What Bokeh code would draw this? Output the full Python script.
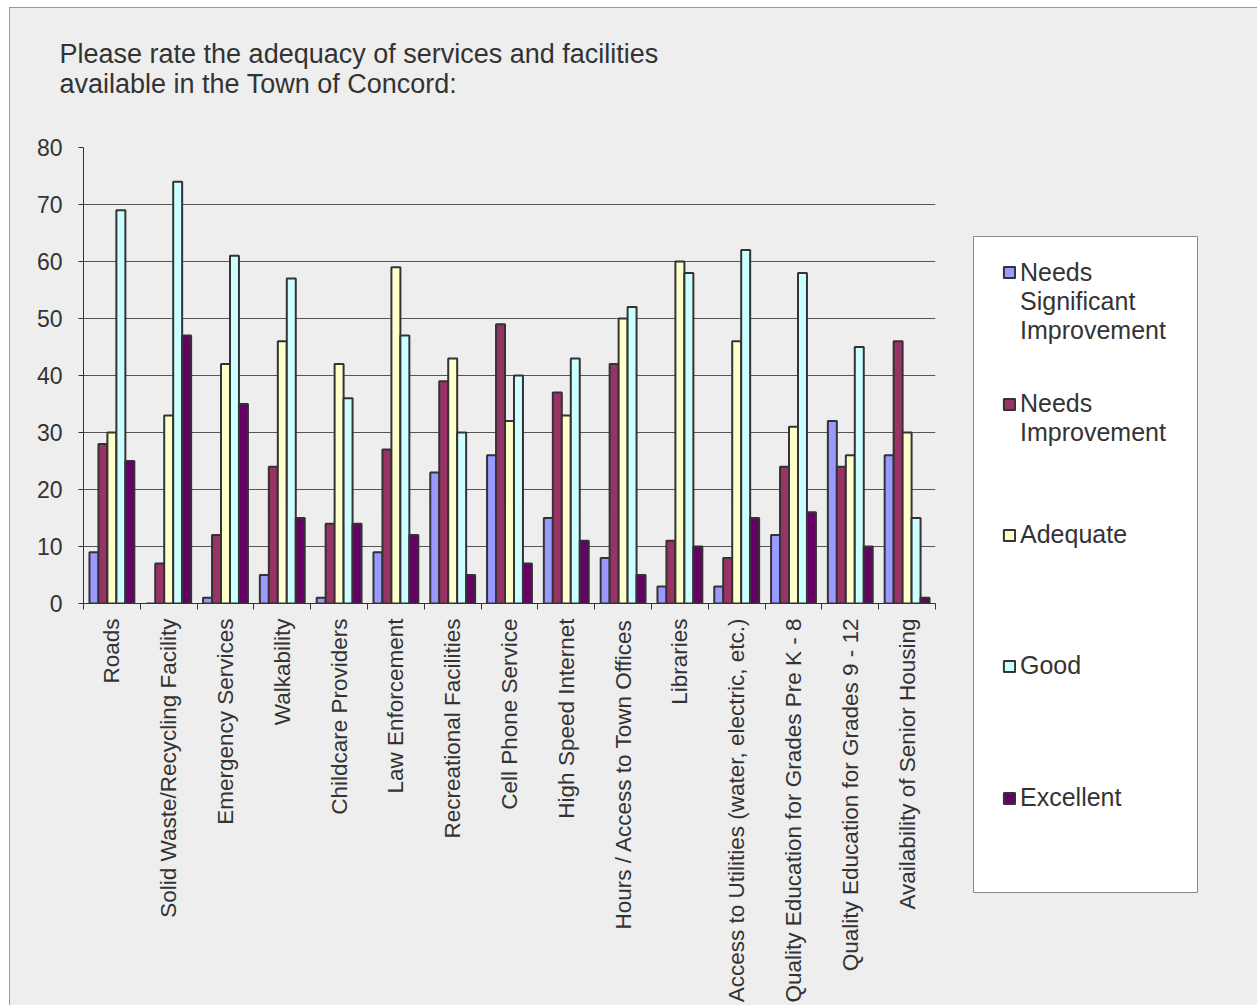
import math
from bokeh.plotting import figure
from bokeh.layouts import row
from bokeh.models import (ColumnDataSource, Range1d, LinearAxis, FixedTicker, Legend, LegendItem)
from bokeh.transform import dodge
from bokeh.embed import file_html
from bokeh.resources import INLINE

categories = ["Roads", "Solid Waste/Recycling Facility", "Emergency Services", "Walkability",
              "Childcare Providers", "Law Enforcement", "Recreational Facilities",
              "Cell Phone Service", "High Speed Internet", "Hours / Access to Town Offices",
              "Libraries", "Access to Utilities (water, electric, etc.)",
              "Quality Education for Grades Pre K - 8", "Quality Education for Grades 9 - 12",
              "Availability of Senior Housing"]
needs_significant = [9, 0, 1, 5, 1, 9, 23, 26, 15, 8, 3, 3, 12, 32, 26]
needs_improvement = [28, 7, 12, 24, 14, 27, 39, 49, 37, 42, 11, 8, 24, 24, 46]
adequate = [30, 33, 42, 46, 42, 59, 43, 32, 33, 50, 60, 46, 31, 26, 30]
good = [69, 74, 61, 57, 36, 47, 30, 40, 43, 52, 58, 62, 58, 45, 15]
excellent = [25, 47, 35, 15, 14, 12, 5, 7, 11, 5, 10, 15, 16, 10, 1]
series_lines = [["Needs", "Significant", "Improvement"], ["Needs", "Improvement"],
                ["Adequate"], ["Good"], ["Excellent"]]
series_keys = ["nsi", "ni", "adequate", "good", "excellent"]
series_colors = ["#9999FF", "#993366", "#FFFFCC", "#CCFFFF", "#660066"]
y_ticks = [0, 10, 20, 30, 40, 50, 60, 70, 80]

title_text = "Please rate the adequacy of services and facilities\navailable in the Town of Concord:\n"
FONT = "Liberation Sans"
TXT = "#333333"
BG = "#EEEEEE"
EDGE = "#333333"

source = ColumnDataSource(dict(cat=categories, nsi=needs_significant, ni=needs_improvement,
                               adequate=adequate, good=good, excellent=excellent))

# ---------------- main chart ----------------
p = figure(x_range=categories, y_range=Range1d(0, 80), width=945, height=997,
           output_backend="svg", toolbar_location=None, x_axis_location=None,
           min_border_left=73, min_border_right=20, min_border_top=139, min_border_bottom=400)
p.frame_align = False
p.background_fill_color = BG
p.border_fill_color = BG
p.outline_line_color = None

p.title.text = title_text
p.title.text_font = FONT
p.title.text_font_size = "27px"
p.title.text_font_style = "normal"
p.title.text_color = TXT
p.title.align = "left"
p.title.offset = -24
p.title.standoff = 38

bar_w = 0.158
offsets = [-2 * bar_w, -bar_w, 0, bar_w, 2 * bar_w]
for key, off, col in zip(series_keys, offsets, series_colors):
    p.vbar(x=dodge("cat", off, range=p.x_range), top=key, width=bar_w, source=source,
           fill_color=col, line_color=EDGE, line_width=2)

ya = p.yaxis[0]
ya.ticker = FixedTicker(ticks=y_ticks)
ya.axis_line_color = EDGE
ya.major_tick_line_color = EDGE
ya.major_tick_out = 5
ya.major_tick_in = 0
ya.minor_tick_line_color = None
ya.major_label_text_font = FONT
ya.major_label_text_font_size = "23px"
ya.major_label_text_color = TXT
ya.major_label_standoff = 16

p.ygrid.ticker = FixedTicker(ticks=y_ticks)
p.ygrid.grid_line_color = "#555555"
p.ygrid.grid_line_width = 1
p.xgrid.grid_line_color = None

# category axis: labels at the factor centres, tick marks at the boundaries between factors
n = len(categories)
centres = [i + 0.5 for i in range(n)]
bounds = list(range(n + 1))
xa = LinearAxis(ticker=FixedTicker(ticks=centres, minor_ticks=bounds),
                major_label_overrides={c: name for c, name in zip(centres, categories)})
xa.axis_line_color = EDGE
xa.major_tick_line_color = None
xa.major_tick_out = 0
xa.major_tick_in = 0
xa.minor_tick_line_color = EDGE
xa.minor_tick_out = 6
xa.minor_tick_in = 0
xa.major_label_orientation = math.pi / 2
xa.major_label_text_font = FONT
xa.major_label_text_font_size = "22.5px"
xa.major_label_text_color = TXT
xa.major_label_standoff = 9
p.add_layout(xa, "below")

# ---------------- legend panel ----------------
box_w, box_h = 224, 656
q = figure(width=302, height=997, x_range=Range1d(0, 1), y_range=Range1d(0, 1),
           output_backend="svg", toolbar_location=None,
           x_axis_location=None, y_axis_location=None,
           min_border_left=18, min_border_right=302 - 18 - box_w,
           min_border_top=228, min_border_bottom=997 - 228 - box_h)
q.frame_align = False
q.background_fill_color = "white"
q.border_fill_color = BG
q.outline_line_color = "#888888"
q.outline_line_width = 1
q.xgrid.visible = False
q.ygrid.visible = False

legend_font = 25
line_h = 1.15
first_line_from_top = [37, 168, 299, 430, 562]
for lines, col, top in zip(series_lines, series_colors, first_line_from_top):
    # legend swatch proxy: one row of NaN, so nothing is drawn in the box itself
    proxy = q.vbar(x=[float("nan")], top=[float("nan")], width=0.1,
                   fill_color=col, line_color=EDGE, line_width=2)
    # leading blank lines keep the swatch level with the first line of the label
    label = "\n" * (len(lines) - 1) + "\n".join(lines)
    block = (2 * len(lines) - 1) * legend_font * line_h
    lg = Legend(items=[LegendItem(label=label, renderers=[proxy])],
                location=(29, box_h - top - block / 2))
    lg.background_fill_alpha = 0
    lg.border_line_color = None
    lg.padding = 0
    lg.margin = 0
    lg.spacing = 0
    lg.label_height = 0
    lg.glyph_width = 14
    lg.glyph_height = 14
    lg.label_standoff = 4
    lg.label_text_font = FONT
    lg.label_text_font_size = f"{legend_font}px"
    lg.label_text_color = TXT
    lg.label_text_line_height = line_h
    q.add_layout(lg)

layout = row(p, q)
layout.styles = {"margin-left": "10px", "margin-top": "8px", "outline": "1px solid #999999",
                 "background-color": BG}

open("out.html", "w").write(file_html(layout, INLINE))
